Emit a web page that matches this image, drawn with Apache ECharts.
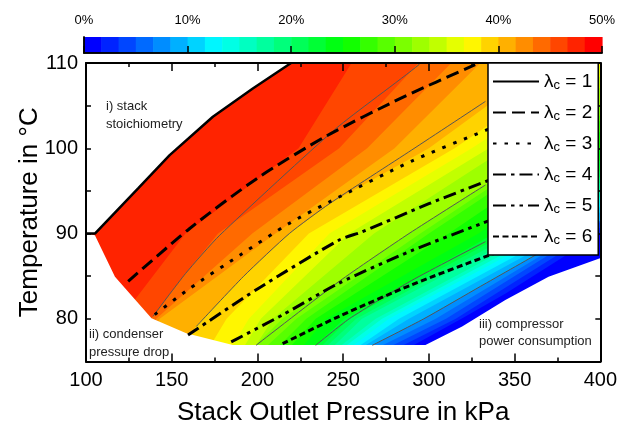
<!DOCTYPE html>
<html>
<head>
<meta charset="utf-8">
<script src="https://cdn.jsdelivr.net/npm/echarts@6/dist/echarts.min.js"></script>
<style>
  html, body { margin: 0; padding: 0; background: #fff; }
  #chart { width: 620px; height: 431px; }
</style>
</head>
<body>
<div id="chart"></div>
<script>
// colour scale: 30 steps between 0 % and 50 %
var scaleMin = 0;
var scaleMax = 50;
var scaleSteps = 30;

// efficiency bands: colour step above each boundary line, boundary as [kPa, degC]
var bandStep = [0, 1, 2, 3, 4, 5, 6, 7, 8, 9, 10, 11, 12, 13, 14, 15, 16, 17, 18, 19, 20, 21, 22, 23, 24, 25, 26, 27, 28];
var bandLine = [
  [[600, 74], [600, 111]],
  [[275, 74], [291, 76.9], [319, 80], [345, 83], [400, 90], [470, 100], [560, 111]],
  [[270, 74], [285, 76.9], [315.7, 80], [395, 90], [465, 100], [555, 111]],
  [[264, 74], [279, 76.9], [310, 80], [390, 90], [465, 100], [550, 111]],
  [[258, 74], [273, 76.9], [304, 80], [387, 90], [462, 100], [545, 111]],
  [[250, 74], [267, 76.9], [297, 80], [330, 83.8], [366, 87.9], [400, 91.5], [560, 111]],
  [[248, 74], [263, 76.9], [288.4, 80], [380, 90], [460, 100], [540, 111]],
  [[245, 74], [260, 76.9], [282.6, 80], [375, 90], [455, 100], [535, 111]],
  [[242, 74], [256, 76.9], [276.7, 80], [370, 90], [450, 100], [530, 111]],
  [[238, 74], [252, 76.9], [272.7, 80], [366, 90], [445, 100], [525, 111]],
  [[235, 74], [249, 76.9], [269, 80], [362, 90], [440, 100], [520, 111]],
  [[232, 74], [245, 76.9], [261, 80], [355, 90], [430, 100], [510, 111]],
  [[228, 74], [241, 76.9], [257.6, 80], [350, 90], [425, 100], [505, 111]],
  [[225, 74], [238, 76.9], [253.5, 80], [345, 90], [420, 100], [500, 111]],
  [[222, 74], [234, 76.9], [250.6, 80], [290, 84.5], [338, 90], [410, 100], [490, 111]],
  [[215, 74], [227, 76.9], [240, 80], [329, 90], [400, 100], [480, 111]],
  [[208, 74], [220, 76.9], [234, 80], [311.6, 90], [385, 100], [470, 111]],
  [[201, 74], [213, 76.9], [228.5, 80], [300, 90], [375, 100], [460, 111]],
  [[194, 74], [206, 76.9], [222.7, 80], [295, 90], [370, 100], [455, 111]],
  [[187, 74], [199, 76.9], [214.5, 80], [247.7, 84.4], [288, 90], [333, 95.7], [360, 100], [445, 111]],
  [[190, 74], [209, 80], [268, 90], [345, 100], [430, 111]],
  [[184, 74], [202, 80], [253.5, 90], [335, 100], [420, 111]],
  [[177, 74], [195, 80], [242, 90], [325, 100], [410, 111]],
  [[164, 74], [182, 80], [230, 90], [315, 100], [395, 111]],
  [[150, 74], [164, 79.1], [192, 85], [218.6, 90], [242, 93.5], [300, 100], [375, 111]],
  [[128, 74], [143, 80], [210.5, 90], [280, 100], [335, 111]],
  [[126, 74], [141, 80], [197, 90], [264, 100], [318, 111]],
  [[122, 74], [139, 80.3], [158, 85.3], [177, 90], [247.7, 100], [294, 110], [300, 111]],
  [[105, 74], [120, 80], [158, 90], [224, 100], [258, 111]]
];

// thin grey contour lines
var greyLines = [
  [[139.1, 80.3], [158, 85.3], [178, 89.8], [245.7, 102.3], [294.2, 109.8], [295, 110.5]],
  [[164.3, 79.1], [192, 85], [218.6, 90], [242, 93.5], [290, 99.8], [333, 105.5]],
  [[199.2, 76.9], [247.7, 84.4], [288.4, 90], [333, 95.7]],
  [[234, 76.9], [253.5, 80], [290, 84.5], [333, 89.05]],
  [[267, 76.9], [297, 80], [330, 83.8], [365.9, 87.9]]
];

// cathode stoichiometry lines
var lambdaNames = ['λc = 1', 'λc = 2', 'λc = 3', 'λc = 4', 'λc = 5', 'λc = 6'];
var lambdaLines = [
  [[100, 90], [105.2, 90], [130.4, 95.3], [148.8, 99.2], [174, 103.7], [197.3, 107], [219.6, 110]],
  [[124.6, 84.4], [160.5, 90.6], [200, 96.5], [239.9, 101.4], [285, 106], [327, 109.8]],
  [[140.1, 80.5], [160, 83.5], [190, 87.5], [218.6, 91.2], [241.9, 93.7], [290, 98.5], [333, 102.1], [345, 103]],
  [[159.5, 78.1], [200, 83.5], [247.7, 89.25], [261, 90.2], [300, 93.5], [333, 96.1], [345, 97]],
  [[184.7, 77.3], [215, 80.5], [247.7, 84.2], [290, 88], [331, 91.2], [345, 92.3]],
  [[214.7, 77.1], [247.7, 80.3], [290, 84], [333, 87.3], [345, 88.2]]
];

// operating window limits
var stackLimit = [[98, 90], [100, 90], [105.2, 90], [130.4, 95.3], [148.8, 99.2], [174, 103.7], [197.3, 107], [219.6, 110], [222, 112], [98, 112]];
var lowerLimit = [[98, 90], [100, 90], [105.2, 89.8], [116.9, 84.95], [138.2, 80.07], [158.5, 78.3], [185.6, 76.94],
  [298, 76.94], [319.4, 79.1], [344.6, 82.2], [369.8, 84.95], [399.8, 87.1], [405, 87.4], [405, 73], [98, 73]];

var xTicks = { min: 100, max: 400, step: 50 };
var yTicks = { min: 75, max: 110, step: 5 };
var barTicks = { min: 0, max: 50, step: 10 };

var font = '"Liberation Sans", Arial, Helvetica, sans-serif';
var chart = echarts.init(document.getElementById('chart'));

var stepSize = (scaleMax - scaleMin) / scaleSteps;
var barData = [];
for (var i = 0; i < scaleSteps; i++) {
  barData.push([scaleMin + i * stepSize, scaleMin + (i + 1) * stepSize, scaleMin + (i + 0.5) * stepSize]);
}
var bandData = bandStep.map(function (s, k) {
  return [k, 0, scaleMin + (s + 0.5) * stepSize];
});

function renderBand(params, api) {
  var line = bandLine[params.dataIndex];
  var pts = line.map(function (d) { return api.coord(d); });
  pts.push(api.coord([80, line[line.length - 1][1]]));
  pts.push(api.coord([80, line[0][1]]));
  return { type: 'polygon', shape: { points: pts }, style: { fill: api.visual('color') } };
}

function renderStep(params, api) {
  var a = api.coord([api.value(0), 0]);
  var b = api.coord([api.value(1), 1]);
  return {
    type: 'rect',
    shape: { x: a[0], y: b[1], width: b[0] - a[0] + 0.6, height: a[1] - b[1] },
    style: { fill: api.visual('color') }
  };
}

function maskSeries(shape) {
  return {
    type: 'custom', xAxisIndex: 0, yAxisIndex: 0, z: 3, silent: true, clip: true,
    data: [[0, 0, 0]],
    renderItem: function (params, api) {
      return {
        type: 'polygon',
        shape: { points: shape.map(function (d) { return api.coord(d); }) },
        style: { fill: '#fff' }
      };
    }
  };
}

var dashes = ['solid', [13, 6], [3.5, 8], [13, 5, 3.5, 5], [13, 5, 3.5, 5, 3.5, 5], [6, 3.5]];
var widths = [2.5, 3, 3, 3, 3, 3];

var series = [
  {
    type: 'custom', xAxisIndex: 0, yAxisIndex: 0, z: 1, silent: true, clip: true,
    data: bandData, renderItem: renderBand
  },
  {
    type: 'custom', xAxisIndex: 2, yAxisIndex: 2, z: 1, silent: true,
    data: barData, renderItem: renderStep
  },
  maskSeries(stackLimit),
  maskSeries(lowerLimit)
];
greyLines.forEach(function (g) {
  series.push({
    type: 'line', xAxisIndex: 0, yAxisIndex: 0, data: g, symbol: 'none', silent: true, z: 4,
    smooth: 0.2, lineStyle: { color: '#555', width: 1 }
  });
});
lambdaLines.forEach(function (l, k) {
  series.push({
    name: lambdaNames[k], type: 'line', xAxisIndex: 0, yAxisIndex: 0, data: l, symbol: 'none', z: 5,
    smooth: k === 0 ? false : 0.25,
    itemStyle: { color: '#000', opacity: 0 },
    lineStyle: { color: '#000', width: widths[k], type: dashes[k] }
  });
});

var tickLine = { color: '#000', width: 1.5 };

chart.setOption({
  animation: false,
  textStyle: { fontFamily: font },
  grid: [
    { left: 86, right: 18.5, top: 63, bottom: 69.5 },
    { left: 84, right: 18, top: 37, height: 16 }
  ],
  visualMap: {
    type: 'piecewise', show: false, min: scaleMin, max: scaleMax, splitNumber: scaleSteps,
    dimension: 2, seriesIndex: [0, 1],
    inRange: { color: ['#0000ff', '#00ffff', '#00ff00', '#ffff00', '#ff0000'] }
  },
  xAxis: [
    {
      gridIndex: 0, type: 'value', min: xTicks.min, max: xTicks.max, interval: xTicks.step, z: 10,
      axisLine: { lineStyle: { color: '#000', width: 2 } },
      axisTick: { inside: true, length: 8, lineStyle: tickLine },
      minorTick: { show: true, splitNumber: 2, length: 4, lineStyle: tickLine },
      splitLine: { show: false },
      axisLabel: { color: '#000', fontSize: 20, margin: 9, fontFamily: font },
      name: 'Stack Outlet Pressure in kPa', nameLocation: 'middle', nameGap: 38, nameMoveOverlap: false,
      nameTextStyle: { color: '#000', fontSize: 26, fontFamily: font }
    },
    {
      gridIndex: 0, type: 'value', position: 'top', min: xTicks.min, max: xTicks.max, interval: xTicks.step, z: 10,
      axisLine: { lineStyle: { color: '#000', width: 2 } },
      axisTick: { inside: true, length: 8, lineStyle: tickLine },
      minorTick: { show: true, splitNumber: 2, length: 4, lineStyle: tickLine },
      splitLine: { show: false }, axisLabel: { show: false }
    },
    {
      gridIndex: 1, type: 'value', position: 'top', min: barTicks.min, max: barTicks.max, interval: barTicks.step, z: 10,
      axisLine: { lineStyle: { color: '#000', width: 1.5 } },
      axisTick: { inside: false, length: 7, lineStyle: tickLine },
      splitLine: { show: false },
      axisLabel: { color: '#000', fontSize: 13, margin: 10, formatter: '{value}%', fontFamily: font }
    },
    {
      gridIndex: 1, type: 'value', position: 'bottom', min: barTicks.min, max: barTicks.max, z: 10,
      axisLine: { lineStyle: { color: '#000', width: 1.5 } },
      axisTick: { show: false }, splitLine: { show: false }, axisLabel: { show: false }
    }
  ],
  yAxis: [
    {
      gridIndex: 0, type: 'value', min: yTicks.min, max: yTicks.max, interval: yTicks.step, z: 10,
      axisLine: { lineStyle: { color: '#000', width: 2 } },
      axisTick: { inside: true, length: 5, lineStyle: tickLine },
      splitLine: { show: false },
      axisLabel: {
        color: '#000', fontSize: 20, margin: 8, fontFamily: font,
        formatter: function (v) { return v % 10 === 0 ? String(v) : ''; }
      },
      name: 'Temperature in °C', nameLocation: 'middle', nameGap: 43, nameMoveOverlap: false,
      nameTextStyle: { color: '#000', fontSize: 26, fontFamily: font }
    },
    {
      gridIndex: 0, type: 'value', position: 'right', min: yTicks.min, max: yTicks.max, interval: yTicks.step, z: 10,
      axisLine: { lineStyle: { color: '#000', width: 2 } },
      axisTick: { inside: true, length: 5, lineStyle: tickLine },
      splitLine: { show: false }, axisLabel: { show: false }
    },
    {
      gridIndex: 1, type: 'value', min: 0, max: 1, z: 10,
      axisLine: { show: true, lineStyle: { color: '#000', width: 1.5 } },
      axisTick: { show: false }, splitLine: { show: false }, axisLabel: { show: false }
    },
    {
      gridIndex: 1, type: 'value', position: 'right', min: 0, max: 1, z: 10,
      axisLine: { show: true, lineStyle: { color: '#000', width: 1.5 } },
      axisTick: { show: false }, splitLine: { show: false }, axisLabel: { show: false }
    }
  ],
  legend: {
    data: lambdaNames, orient: 'vertical', left: 488, top: 63, z: 20,
    backgroundColor: '#fff', borderColor: '#000', borderWidth: 1.5, borderRadius: 0,
    padding: [8, 6, 8, 4], itemGap: 10, itemWidth: 46, itemHeight: 14,
    itemStyle: { opacity: 0 },
    formatter: function (name) { return name.replace('λc', 'λ{s|c}'); },
    textStyle: {
      color: '#000', fontSize: 19, fontFamily: font, lineHeight: 21,
      rich: { s: { fontSize: 13, fontFamily: font, color: '#000', padding: [8, 0, 0, 0] } }
    }
  },
  graphic: [
    { type: 'text', left: 106, top: 97, z: 30, style: { text: 'i) stack\nstoichiometry', font: '13px ' + font, fill: '#222', lineHeight: 18 } },
    { type: 'text', left: 89, top: 325, z: 30, style: { text: 'ii) condenser\npressure drop', font: '13px ' + font, fill: '#222', lineHeight: 18 } },
    { type: 'text', left: 479, top: 316, z: 30, style: { text: 'iii) compressor\npower consumption', font: '13px ' + font, fill: '#222', lineHeight: 17 } }
  ],
  series: series
});
</script>
</body>
</html>
